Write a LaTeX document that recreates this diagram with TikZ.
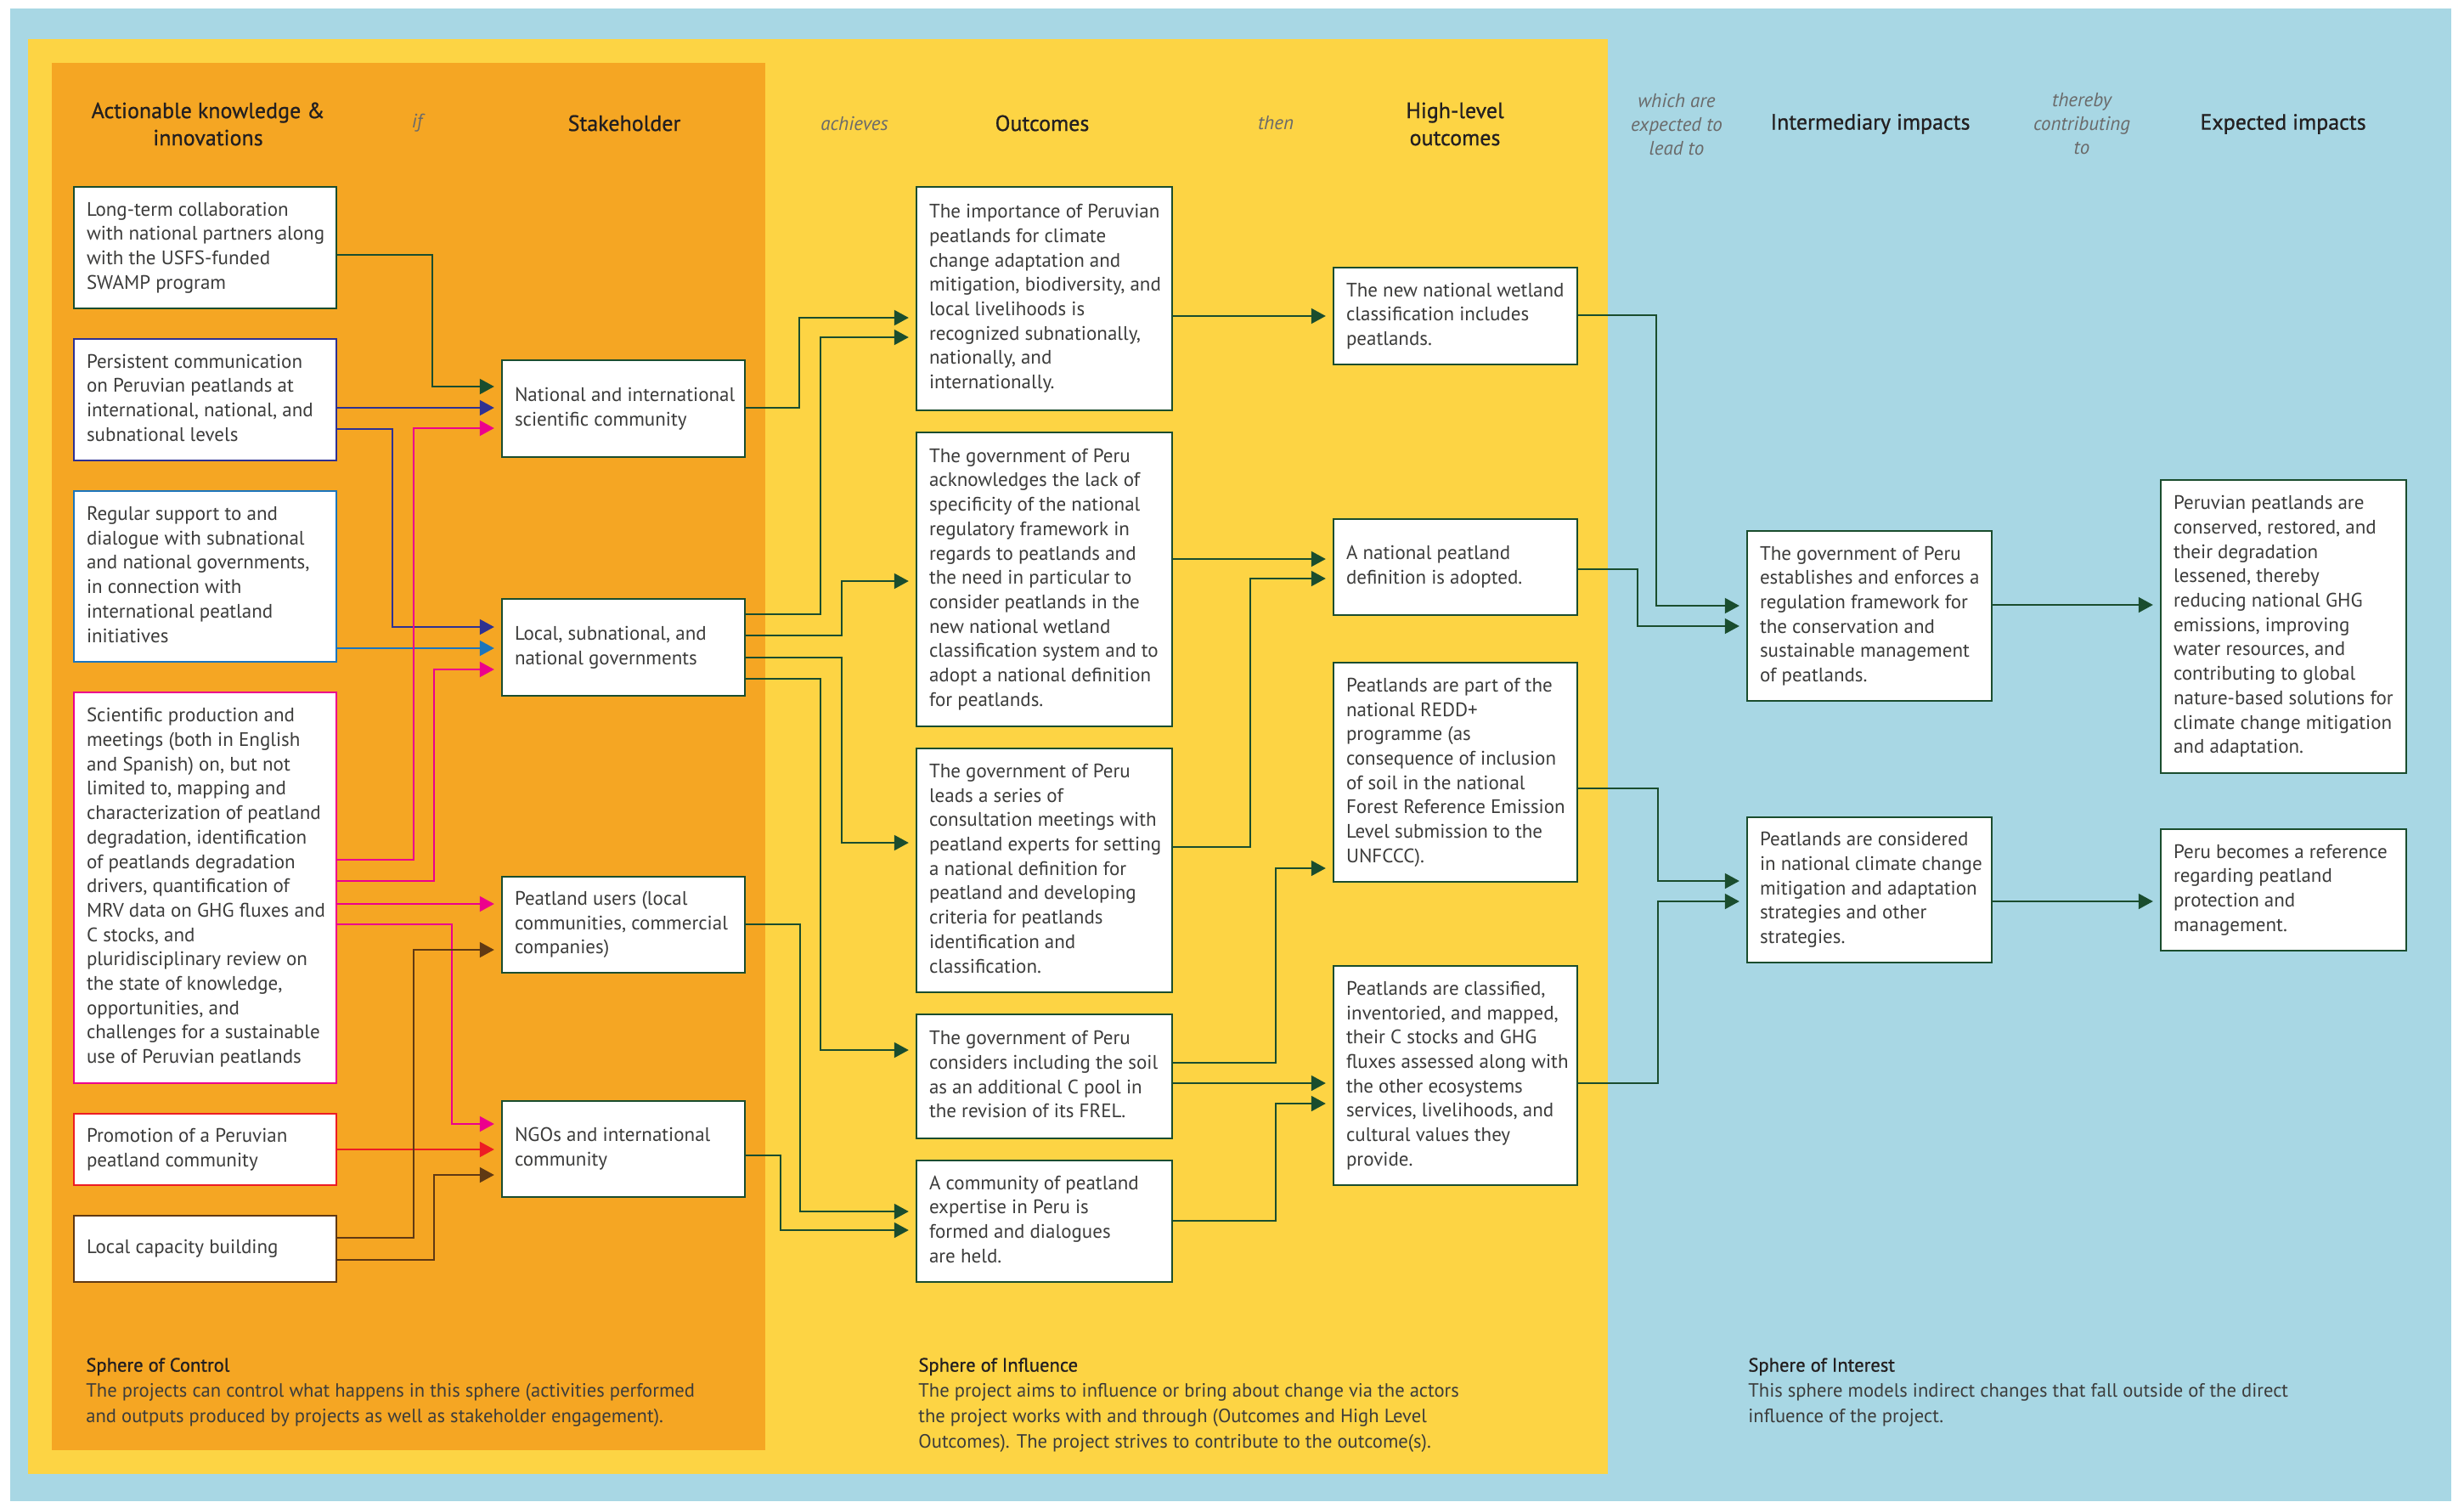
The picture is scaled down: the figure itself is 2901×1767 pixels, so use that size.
\documentclass[tikz,border=0pt]{standalone}
\usepackage{fontspec}
\setmainfont{PT Sans}
\newfontfamily\medfont[FakeBold=0.8]{PT Sans}
\usetikzlibrary{arrows.meta}
\definecolor{bgblue}{HTML}{A8D7E4}
\definecolor{bgyellow}{HTML}{FDD444}
\definecolor{bgorange}{HTML}{F5A623}
\definecolor{cgreen}{HTML}{1A4D2E}
\definecolor{cblue}{HTML}{2E3192}
\definecolor{clight}{HTML}{1C75BC}
\definecolor{cpink}{HTML}{EC008C}
\definecolor{cred}{HTML}{ED1C24}
\definecolor{cbrown}{HTML}{603913}
\definecolor{txt}{HTML}{3C3C3B}
\definecolor{hdr}{HTML}{231F20}
\definecolor{itl}{HTML}{6A6A6A}
\newcommand\bt[2]{\makebox[#1][l]{\begin{tabular}{@{}l@{}}#2\end{tabular}}}
\tikzset{
  box/.style={draw=cgreen, line width=1.2pt, fill=white, inner sep=0pt, text=txt,
    font=\fontsize{11.5}{14.35}\selectfont},
  colA/.style={box, minimum width=154.5pt},
  colS/.style={box, minimum width=143pt},
  colO/.style={box, minimum width=150.5pt},
  colH/.style={box, minimum width=143.5pt},
  colI/.style={box, minimum width=144pt},
  colE/.style={box, minimum width=144.5pt},
  hd/.style={text=hdr, align=center, font=\medfont\fontsize{13}{16}\selectfont},
  it/.style={text=itl, align=center, font=\fontsize{11.5}{14}\selectfont\itshape},
  ft/.style={text=txt, align=left, anchor=north west, inner sep=0pt, font=\fontsize{11.3}{15}\selectfont},
  cn/.style={draw=#1, line width=1pt, -{Triangle[length=8.5pt,width=9pt]}, shorten >=4pt},
  cn/.default=cgreen
}
\begin{document}
\begin{tikzpicture}[x=0.5pt,y=-0.5pt]
\useasboundingbox (0,0) rectangle (2901,1767);
% backgrounds
\fill[bgblue] (12,10) rectangle (2886,1767);
\fill[bgyellow] (33,46) rectangle (1893,1735);
\fill[bgorange] (61,74) rectangle (901,1707);

% headers
\node[hd] (hA) at (245,146) {Actionable knowledge \&\\innovations};
\node[it] (hif) at (491,145) {if};
\node[hd] (hS) at (735,145) {Stakeholder};
\node[it] (hach) at (1006,145) {achieves};
\node[hd] (hO) at (1227,145) {Outcomes};
\node[it] (hthen) at (1502,145) {then};
\node[hd] (hH) at (1713,146) {High-level\\outcomes};
\node[it] (hwhich) at (1974,146) {which are\\expected to\\lead to};
\node[hd] (hI) at (2202,146) {Intermediary impacts};
\node[it] (hthe) at (2451,146) {thereby\\contributing\\to};
\node[hd] (hE) at (2688,146) {Expected impacts};

% column A
\node[colA, draw=cgreen, minimum height=71.5pt] (B1) at (241.5,291.5) {\bt{139.5pt}{Long-term collaboration\\with national partners along\\with the USFS-funded\\SWAMP program}};
\node[colA, draw=cblue, minimum height=71.5pt] (B2) at (241.5,470.5) {\bt{139.5pt}{Persistent communication\\on Peruvian peatlands at\\international, national, and\\subnational levels}};
\node[colA, draw=clight, minimum height=100.5pt] (B3) at (241.5,678.5) {\bt{139.5pt}{Regular support to and\\dialogue with subnational\\and national governments,\\in connection with\\international peatland\\initiatives}};
\node[colA, draw=cpink, minimum height=230pt] (B4) at (241.5,1045) {\bt{139.5pt}{Scientific production and\\meetings (both in English\\and Spanish) on, but not\\limited to, mapping and\\characterization of peatland\\degradation, identification\\of peatlands degradation\\drivers, quantification of\\MRV data on GHG fluxes and\\C stocks, and\\pluridisciplinary review on\\the state of knowledge,\\opportunities, and\\challenges for a sustainable\\use of Peruvian peatlands}};
\node[colA, draw=cred, minimum height=42pt] (B5) at (241.5,1353) {\bt{139.5pt}{Promotion of a Peruvian\\peatland community}};
\node[colA, draw=cbrown, minimum height=39pt] (B6) at (241.5,1470) {\bt{139.5pt}{Local capacity building}};

% column S
\node[colS, minimum height=57pt] (S1) at (734,481) {\bt{128pt}{National and international\\scientific community}};
\node[colS, minimum height=57pt] (S2) at (734,762) {\bt{128pt}{Local, subnational, and\\national governments}};
\node[colS, minimum height=56.5pt] (S3) at (734,1088.5) {\bt{128pt}{Peatland users (local\\communities, commercial\\companies)}};
\node[colS, minimum height=56.5pt] (S4) at (734,1352.5) {\bt{128pt}{NGOs and international\\community}};

% column O
\node[colO, minimum height=131.5pt] (O1) at (1229.5,351.5) {\bt{135.5pt}{The importance of Peruvian\\peatlands for climate\\change adaptation and\\mitigation, biodiversity, and\\local livelihoods is\\recognized subnationally,\\nationally, and\\internationally.}};
\node[colO, minimum height=173pt] (O2) at (1229.5,682) {\bt{135.5pt}{The government of Peru\\acknowledges the lack of\\specificity of the national\\regulatory framework in\\regards to peatlands and\\the need in particular to\\consider peatlands in the\\new national wetland\\classification system and to\\adopt a national definition\\for peatlands.}};
\node[colO, minimum height=143.5pt] (O3) at (1229.5,1024.5) {\bt{135.5pt}{The government of Peru\\leads a series of\\consultation meetings with\\peatland experts for setting\\a national definition for\\peatland and developing\\criteria for peatlands\\identification and\\classification.}};
\node[colO, minimum height=73pt] (O4) at (1229.5,1267) {\bt{135.5pt}{The government of Peru\\considers including the soil\\as an additional C pool in\\the revision of its FREL.}};
\node[colO, minimum height=71.5pt] (O5) at (1229.5,1437.5) {\bt{135.5pt}{A community of peatland\\expertise in Peru is\\formed and dialogues\\are held.}};

% column H
\node[colH, minimum height=57pt] (H1) at (1713.5,372) {\bt{128.5pt}{The new national wetland\\classification includes\\peatlands.}};
\node[colH, minimum height=56.5pt] (H2) at (1713.5,667.5) {\bt{128.5pt}{A national peatland\\definition is adopted.}};
\node[colH, minimum height=129pt] (H3) at (1713.5,909) {\bt{128.5pt}{Peatlands are part of the\\national REDD+\\programme (as\\consequence of inclusion\\of soil in the national\\Forest Reference Emission\\Level submission to the\\UNFCCC).}};
\node[colH, minimum height=129pt] (H4) at (1713.5,1266) {\bt{128.5pt}{Peatlands are classified,\\inventoried, and mapped,\\their C stocks and GHG\\fluxes assessed along with\\the other ecosystems\\services, livelihoods, and\\cultural values they\\provide.}};

% column I
\node[colI, minimum height=100pt] (I1) at (2201,725) {\bt{129pt}{The government of Peru\\establishes and enforces a\\regulation framework for\\the conservation and\\sustainable management\\of peatlands.}};
\node[colI, minimum height=85.5pt] (I2) at (2201,1047.5) {\bt{129pt}{Peatlands are considered\\in national climate change\\mitigation and adaptation\\strategies and other\\strategies.}};

% column E
\node[colE, minimum height=172.5pt] (E1) at (2688.5,737.5) {\bt{129.5pt}{Peruvian peatlands are\\conserved, restored, and\\their degradation\\lessened, thereby\\reducing national GHG\\emissions, improving\\water resources, and\\contributing to global\\nature-based solutions for\\climate change mitigation\\and adaptation.}};
\node[colE, minimum height=71.5pt] (E2) at (2688.5,1047.5) {\bt{129.5pt}{Peru becomes a reference\\regarding peatland\\protection and\\management.}};

% connectors: actions -> stakeholders
\draw[cn=cgreen] (B1.east |- 0,300) -- (509,300) -- (509,455) -- (S1.west |- 0,455);
\draw[cn=cblue] (B2.east |- 0,480) -- (S1.west |- 0,480);
\draw[cn=cblue] (B2.east |- 0,505) -- (462,505) -- (462,738) -- (S2.west |- 0,738);
\draw[cn=clight] (B3.east |- 0,763) -- (S2.west |- 0,763);
\draw[cn=cpink] (B4.east |- 0,1012) -- (487,1012) -- (487,504) -- (S1.west |- 0,504);
\draw[cn=cpink] (B4.east |- 0,1037) -- (511,1037) -- (511,788) -- (S2.west |- 0,788);
\draw[cn=cpink] (B4.east |- 0,1064) -- (S3.west |- 0,1064);
\draw[cn=cpink] (B4.east |- 0,1088) -- (532,1088) -- (532,1323) -- (S4.west |- 0,1323);
\draw[cn=cred] (B5.east |- 0,1353) -- (S4.west |- 0,1353);
\draw[cn=cbrown] (B6.east |- 0,1457) -- (487,1457) -- (487,1118) -- (S3.west |- 0,1118);
\draw[cn=cbrown] (B6.east |- 0,1483) -- (511,1483) -- (511,1383) -- (S4.west |- 0,1383);

% stakeholders -> outcomes
\draw[cn] (S1.east |- 0,480) -- (941,480) -- (941,374) -- (O1.west |- 0,374);
\draw[cn] (S2.east |- 0,723) -- (966,723) -- (966,397) -- (O1.west |- 0,397);
\draw[cn] (S2.east |- 0,748) -- (991,748) -- (991,684) -- (O2.west |- 0,684);
\draw[cn] (S2.east |- 0,774) -- (991,774) -- (991,992) -- (O3.west |- 0,992);
\draw[cn] (S2.east |- 0,799) -- (966,799) -- (966,1236) -- (O4.west |- 0,1236);
\draw[cn] (S3.east |- 0,1088) -- (942,1088) -- (942,1426) -- (O5.west |- 0,1426);
\draw[cn] (S4.east |- 0,1360) -- (919,1360) -- (919,1448) -- (O5.west |- 0,1448);

% outcomes -> high-level outcomes
\draw[cn] (O1.east |- 0,372) -- (H1.west |- 0,372);
\draw[cn] (O2.east |- 0,658) -- (H2.west |- 0,658);
\draw[cn] (O3.east |- 0,997) -- (1472,997) -- (1472,681) -- (H2.west |- 0,681);
\draw[cn] (O4.east |- 0,1251) -- (1502,1251) -- (1502,1022) -- (H3.west |- 0,1022);
\draw[cn] (O4.east |- 0,1275) -- (H4.west |- 0,1275);
\draw[cn] (O5.east |- 0,1437) -- (1502,1437) -- (1502,1299) -- (H4.west |- 0,1299);

% high-level -> intermediary
\draw[cn] (H1.east |- 0,371) -- (1950,371) -- (1950,713) -- (I1.west |- 0,713);
\draw[cn] (H2.east |- 0,670) -- (1928,670) -- (1928,737) -- (I1.west |- 0,737);
\draw[cn] (H3.east |- 0,928) -- (1952,928) -- (1952,1037) -- (I2.west |- 0,1037);
\draw[cn] (H4.east |- 0,1275) -- (1952,1275) -- (1952,1061) -- (I2.west |- 0,1061);

% intermediary -> expected
\draw[cn] (I1.east |- 0,712) -- (E1.west |- 0,712);
\draw[cn] (I2.east |- 0,1061) -- (E2.west |- 0,1061);

% footers
\node[ft] (fC) at (101,1598) {{\color{hdr}\medfont Sphere of Control}\\The projects can control what happens in this sphere (activities performed\\and outputs produced by projects as well as stakeholder engagement).};
\node[ft] (fI) at (1081,1598) {{\color{hdr}\medfont Sphere of Influence}\\The project aims to influence or bring about change via the actors\\the project works with and through (Outcomes and High Level\\Outcomes). The project strives to contribute to the outcome(s).};
\node[ft] (fT) at (2058,1598) {{\color{hdr}\medfont Sphere of Interest}\\This sphere models indirect changes that fall outside of the direct\\influence of the project.};
\end{tikzpicture}
\end{document}
